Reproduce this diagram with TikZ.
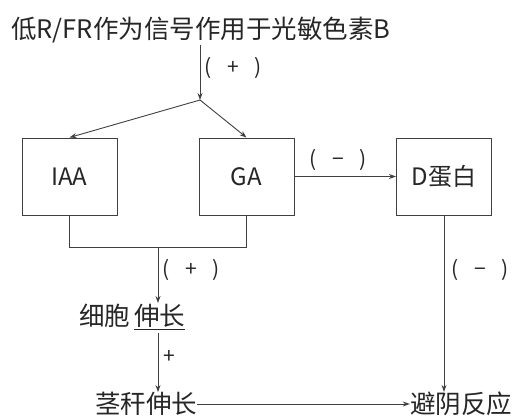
\documentclass[tikz,border=0pt]{standalone}
\usepackage{fontspec}
\setmainfont{Noto Sans CJK SC}
\usetikzlibrary{arrows.meta}
\newcommand{\pl}[1]{(\hspace{16pt}#1\hspace{16pt})}
\begin{document}
\begin{tikzpicture}[x=1pt,y=-1pt,
  txt/.style={inner sep=0pt,text=black!85,font=\fontsize{25.5}{27}\selectfont},
  lbl/.style={inner sep=0pt,text=black!85,font=\fontsize{21}{23}\selectfont,anchor=west},
  boxn/.style={draw=black!75,line width=1pt,minimum width=95pt,minimum height=77pt,inner sep=0pt,text=black!85,font=\fontsize{24}{26}\selectfont},
  con/.style={draw=black!75,line width=0.9pt},
  arr/.style={con,-{Stealth[length=7pt,width=5pt]}}]
\useasboundingbox (0,0) rectangle (526,417);
\node[txt,anchor=west] (title) at (11,30) {低R/FR作为信号作用于光敏色素B};
\coordinate (j1) at (200,100);
\coordinate (t1) at (200,45);
\node[boxn] (iaa) at (69.5,176.5) {IAA};
\node[boxn] (ga) at (246.5,176.5) {GA};
\node[boxn] (d) at (444,176.5) {D蛋白};
\draw[arr] (t1) -- (j1);
\node[lbl] at (204,68) {\pl{+}};
\draw[arr] (j1) -- (iaa.north);
\draw[arr] (j1) -- (ga.north);
\draw[arr] (ga.east) -- (d.west);
\node[lbl] at (309,160) {\pl{−}};
\coordinate (j2) at (158,247);
\draw[con] (iaa.south) -- (69.5,247) -- (246.5,247) -- (ga.south);
\node[txt,anchor=west] (cell) at (79,317) {细胞\,\underline{伸长}};
\draw[arr] (j2) -- (158,303);
\node[lbl] at (162,270) {\pl{+}};
\node[txt] (stem) at (146,404) {茎秆伸长};
\draw[arr] (158,333) -- (stem.north-|158,0);
\node[lbl] at (163,357) {+};
\node[txt] (shade) at (461,404) {避阴反应};
\draw[arr] (d.south) -- (shade.north-|d.south);
\node[lbl] at (451,270) {\pl{−}};
\draw[arr] (stem.east) -- (shade.west);
\end{tikzpicture}
\end{document}
